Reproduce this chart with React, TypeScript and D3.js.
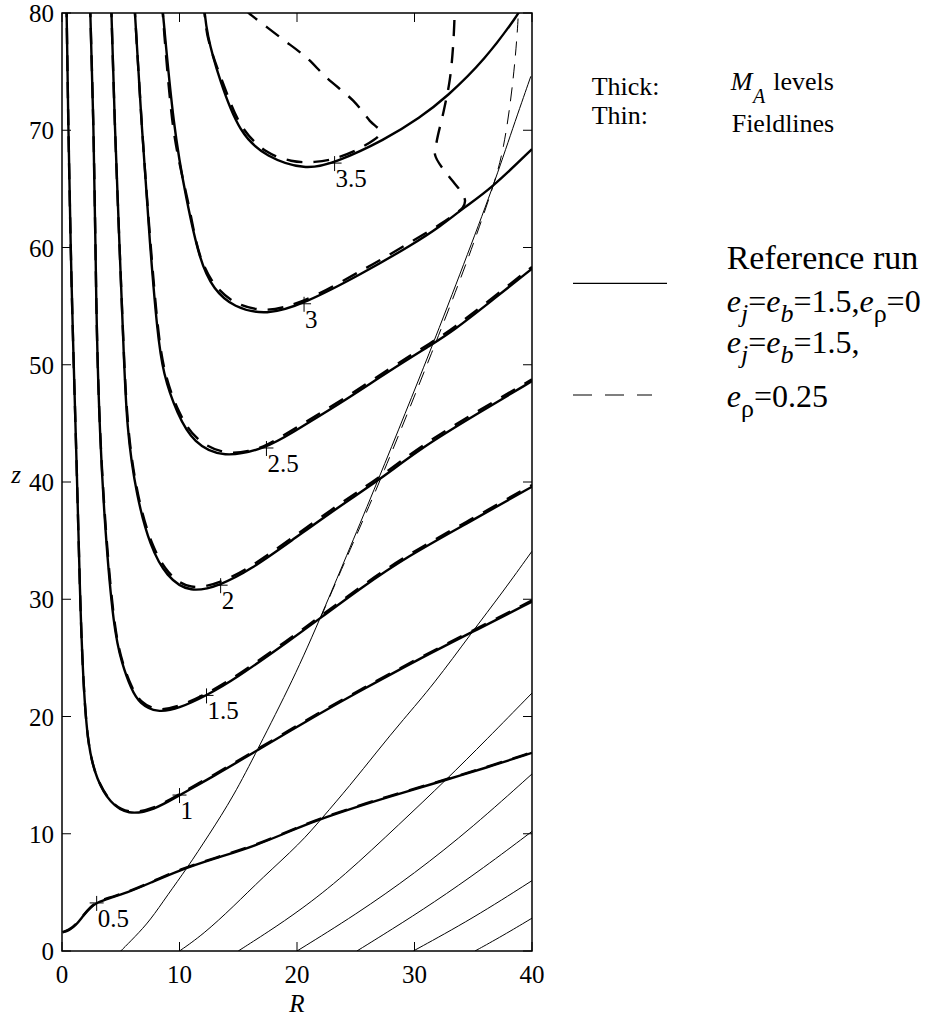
import React from 'react';
import * as d3 from 'd3';

type P = [number, number];

const xTicks = [0, 10, 20, 30, 40];
const zTicks = [0, 10, 20, 30, 40, 50, 60, 70, 80];

// M_A level contours, reference run (solid): [R, z]
const solid05: P[] = [[0.05,1.6],[0.6,1.75],[1.2,2.2],[1.8,3.0],[2.4,3.7],[3.0,4.15],[4.0,4.5],[5.5,4.95],[7.5,5.8],[10,6.9],[13,7.9],[16.3,8.9],[20.3,10.6],[22.1,11.3],[26,12.6],[29,13.5],[32.7,14.6],[36,15.6],[40,16.9]];
const solid10: P[] = [[0.38,81],[0.54,70],[0.74,60],[0.92,52.5],[1.25,41.6],[1.53,30.2],[1.8,23],[2.2,17.4],[2.95,14.6],[4.1,12.6],[5.6,11.6],[7.8,12.0],[10,13.3],[12.9,14.9],[16.6,17.1],[22,20.3],[25.6,22.3],[30.2,24.8],[34.9,27.2],[40,29.8]];
const solid15: P[] = [[2.38,81],[2.7,70],[2.85,60],[2.95,53],[3.2,44.4],[3.66,35.9],[4.4,27.4],[5.1,24.5],[5.9,22.3],[6.6,21.1],[8.1,20.3],[10,20.7],[12.3,21.8],[14.6,23.1],[19.4,26.5],[22,28.4],[25.5,31.0],[29.3,33.6],[34.7,36.6],[40,39.6]];
const solid20: P[] = [[4.18,81],[4.5,70],[4.9,60],[5.2,52.5],[5.5,44.4],[6.36,38.7],[7.5,34.5],[8.9,31.9],[10.9,30.5],[13.5,31.2],[16,32.5],[19.4,34.9],[23.7,38.0],[26.9,40.1],[30.7,43.0],[35.3,45.8],[40,48.6]];
const solid25: P[] = [[6.15,81],[6.8,70],[7.5,60],[8.1,52.9],[8.6,49.2],[9.8,45.8],[11.2,43.3],[13.7,42.0],[17.4,42.9],[19.4,44.1],[23.7,46.7],[27.9,49.5],[31.6,51.8],[33.3,52.9],[36.5,55.4],[40,58.2]];
const solid30: P[] = [[8.5,81],[9.5,70],[10.6,64.0],[11.7,58.9],[12.9,56.4],[14.6,54.9],[17.4,54.2],[20.6,55.2],[25.6,57.8],[29.9,60.3],[32.2,61.8],[34.2,63.4],[36.5,65.0],[40,68.4]];
const solid35: P[] = [[12.05,81],[12.3,78.2],[13.4,74.3],[15.1,69.7],[17.4,67.7],[20.7,66.6],[23.2,67.2],[27.5,69.2],[30.5,71.1],[32.7,72.8],[36.0,76.0],[38.9,80],[39.0,80.3]];

// M_A level contours, e_rho = 0.25 run (dashed)
const dashed05: P[] = [[0.05,1.6],[0.6,1.8],[1.2,2.25],[1.8,3.05],[2.4,3.75],[3.0,4.2],[4.0,4.55],[5.5,5.0],[7.5,5.85],[10,6.95],[13,7.95],[16.3,8.95],[20.3,10.65],[22.1,11.35],[26,12.65],[29,13.55],[32.7,14.65],[36,15.65],[40,16.95]];
const dashed10: P[] = [[0.38,81],[0.54,70],[0.74,60],[0.92,52.5],[1.25,41.6],[1.53,30.2],[1.8,23],[2.2,17.4],[2.95,14.65],[4.1,12.65],[5.6,11.7],[7.8,12.1],[10,13.4],[12.9,15.0],[16.6,17.2],[22,20.4],[25.6,22.4],[30.2,24.9],[34.9,27.3],[40,29.9]];
const dashed15: P[] = [[2.38,81],[2.7,70],[2.85,60],[2.95,53],[3.2,44.4],[3.7,35.9],[4.45,27.4],[5.15,24.5],[5.95,22.4],[6.7,21.2],[8.1,20.45],[10,20.85],[12.3,21.95],[14.6,23.25],[19.4,26.65],[22,28.55],[25.5,31.15],[29.3,33.75],[34.7,36.75],[40,39.75]];
const dashed20: P[] = [[4.18,81],[4.5,70],[4.9,60],[5.2,52.5],[5.55,44.4],[6.42,38.7],[7.6,34.6],[9.0,32.1],[10.9,30.75],[13.5,31.4],[16,32.7],[19.4,35.1],[23.7,38.2],[26.9,40.3],[30.7,43.2],[35.3,46.0],[40,48.75]];
const dashed25: P[] = [[6.15,81],[6.8,70],[7.55,60],[8.15,52.9],[8.7,49.2],[9.9,45.9],[11.3,43.6],[13.7,42.35],[16.0,42.6],[17.4,43.1],[19.4,44.3],[23.7,46.9],[27.9,49.7],[31.6,52.0],[33.3,53.1],[36.5,55.6],[40,58.35]];
const dashed30: P[] = [[8.5,81],[9.5,70],[10.7,64.0],[11.9,58.9],[13.2,56.6],[15.0,55.2],[17.5,54.7],[20.6,55.5],[25.6,58.1],[29.9,60.6],[32.2,62.0],[33.5,62.9],[34.1,63.4],[34.3,64.0],[34.0,64.7],[33.3,65.6],[32.5,66.6],[31.75,67.9],[31.9,69.1],[32.5,71.7],[33.0,74.3],[33.3,77.4],[33.45,81]];
const dashed35: P[] = [[12.05,81],[12.4,78],[13.6,74.3],[15.4,70.2],[17.4,68.2],[19.5,67.4],[21.5,67.3],[23.2,67.6],[25.6,68.6],[27.1,69.8],[26.2,70.8],[24.8,72.5],[22.5,74.5],[20.8,76.2],[18.6,77.9],[15.9,80],[15.6,80.3]];

const solidContours = [solid05, solid10, solid15, solid20, solid25, solid30, solid35];
const dashedContours = [dashed05, dashed10, dashed15, dashed20, dashed25, dashed30, dashed35];

// contour labels
const labelText = ['0.5', '1', '1.5', '2', '2.5', '3', '3.5'];
const labelR = [2.95, 10.0, 12.3, 13.5, 17.4, 20.6, 23.2];
const labelZ = [4.1, 13.3, 21.8, 31.2, 42.9, 55.2, 67.2];

// thin fieldlines (reference run)
const field1: P[] = [[5,0],[6.2,1.2],[7.5,2.6],[9,4.8],[10.6,7.0],[12.5,9.9],[14.6,13.2],[16.6,17.1],[19.7,23.2],[22,28.4],[26.9,40.1],[31.6,51.8],[34.2,58.6],[36.7,65.2],[38.4,70.3],[39.9,74.6]];
const field2: P[] = [[10,0],[12,1.4],[14.6,3.8],[17,6.2],[20.3,9.2],[22.1,11.3],[24.5,14.1],[26.8,17.0],[29,19.7],[31.6,22.7],[34.9,27.2],[37.5,30.6],[40,34.1]];
const field3: P[] = [[15,0],[17.5,1.6],[20.3,3.5],[23.9,6.3],[28.8,10.9],[32.7,14.6],[36.1,18.0],[40,22.0]];
const field4: P[] = [[20,0],[25,3.1],[30,6.6],[35,10.6],[40,15.1]];
const field5: P[] = [[25.1,0],[28,1.8],[31.6,4.1],[35.9,7.1],[40,10.2]];
const field6: P[] = [[29.9,0],[35,2.8],[40,6.0]];
const field7: P[] = [[35.15,0],[37.5,1.3],[40,2.8]];
const fieldLines = [field1, field2, field3, field4, field5, field6, field7];

// thin fieldline of the e_rho = 0.25 run (dashed)
const fieldDashed: P[] = [[22,28.4],[24.5,34.2],[27.1,40.1],[31.8,51.8],[34.4,58.6],[35.5,61.7],[36.7,65.2],[37.6,68.3],[38.4,74.0],[38.8,78.9],[38.85,80.5]];

const serif = '"Liberation Serif", "Times New Roman", "DejaVu Serif", serif';

export default function App() {
  const x = d3.scaleLinear().domain([0, 40]).range([62, 532]);
  const y = d3.scaleLinear().domain([0, 80]).range([951, 13]);
  const smooth = d3.line<P>().x(d => x(d[0])).y(d => y(d[1])).curve(d3.curveBasis);
  const sharp = d3.line<P>().x(d => x(d[0])).y(d => y(d[1])).curve(d3.curveCatmullRom.alpha(0.5));
  const [x0, x1] = x.range();
  const [y0, y1] = y.range();
  const tl = 9;
  const sub = 10;

  return (
    <svg width={940} height={1021} style={{ position: 'absolute', left: 0, top: 0, background: '#fff', fontFamily: serif }}>
      <defs>
        <clipPath id="plotclip">
          <rect x={x0} y={y1} width={x1 - x0} height={y0 - y1} />
        </clipPath>
      </defs>
      <rect x={0} y={0} width={940} height={1021} fill="#fff" />
      <g clipPath="url(#plotclip)" fill="none" stroke="#000">
        {fieldLines.map((f, i) => (
          <path key={'f' + i} d={smooth(f) || ''} strokeWidth={1} />
        ))}
        <path d={smooth(fieldDashed) || ''} strokeWidth={1} strokeDasharray="14,9" />
        {solidContours.map((c, i) => (
          <path key={'s' + i} d={smooth(c) || ''} strokeWidth={2.4} />
        ))}
        {dashedContours.map((c, i) => (
          <path key={'d' + i} d={(i >= 5 ? sharp(c) : smooth(c)) || ''} strokeWidth={2.4} strokeDasharray="16,11" />
        ))}
      </g>
      {/* contour labels */}
      {labelText.map((t, i) => {
        const cx = x(labelR[i]);
        const cy = y(labelZ[i]);
        return (
          <g key={'l' + i}>
            <line x1={cx - 7} x2={cx + 7} y1={cy} y2={cy} stroke="#000" strokeWidth={1} />
            <line x1={cx} x2={cx} y1={cy - 7} y2={cy + 8} stroke="#000" strokeWidth={1} />
            <text x={cx + 1} y={cy + 24} fontSize={25}>{t}</text>
          </g>
        );
      })}
      {/* frame and ticks */}
      <rect x={x0} y={y1} width={x1 - x0} height={y0 - y1} fill="none" stroke="#000" strokeWidth={1.5} />
      {xTicks.map(t => (
        <g key={'xt' + t}>
          <line x1={x(t)} x2={x(t)} y1={y0} y2={y0 - tl} stroke="#000" strokeWidth={1} />
          <line x1={x(t)} x2={x(t)} y1={y1} y2={y1 + tl} stroke="#000" strokeWidth={1} />
          <text x={x(t)} y={y0 + 32} fontSize={25} textAnchor="middle">{t}</text>
        </g>
      ))}
      {zTicks.map(t => (
        <g key={'yt' + t}>
          <line x1={x0} x2={x0 + tl} y1={y(t)} y2={y(t)} stroke="#000" strokeWidth={1} />
          <line x1={x1} x2={x1 - tl} y1={y(t)} y2={y(t)} stroke="#000" strokeWidth={1} />
          <text x={54} y={y(t) + 9} fontSize={25} textAnchor="end">{t}</text>
        </g>
      ))}
      <text x={x(20)} y={1012} fontSize={25} fontStyle="italic" textAnchor="middle">R</text>
      <text x={16} y={483} fontSize={25} fontStyle="italic" textAnchor="middle">z</text>

      {/* legend 1 */}
      <text x={591.7} y={95} fontSize={26}>Thick:</text>
      <text fontSize={26}>
        <tspan x={730.7} y={90} fontStyle="italic">M</tspan>
        <tspan x={753} y={103} fontSize={20} fontStyle="italic">A</tspan>
        <tspan x={773.3} y={90}>levels</tspan>
      </text>
      <text x={591.7} y={124} fontSize={26}>Thin:</text>
      <text x={731.7} y={131.7} fontSize={26}>Fieldlines</text>

      {/* legend 2 */}
      <line x1={573} x2={667} y1={283.3} y2={283.3} stroke="#000" strokeWidth={1.2} />
      <line x1={573} x2={652} y1={395} y2={395} stroke="#000" strokeWidth={1.2} strokeDasharray="19,13" />
      <text x={726.7} y={269.3} fontSize={34}>Reference run</text>
      <text x={726.7} y={311.7} fontSize={32}>
        <tspan fontStyle="italic">e</tspan>
        <tspan dy={sub} fontSize={26} fontStyle="italic">j</tspan>
        <tspan dy={-sub}>=</tspan>
        <tspan fontStyle="italic">e</tspan>
        <tspan dy={sub} fontSize={26} fontStyle="italic">b</tspan>
        <tspan dy={-sub}>=1.5,</tspan>
        <tspan fontStyle="italic">e</tspan>
        <tspan dy={sub} fontSize={26}>ρ</tspan>
        <tspan dy={-sub}>=0</tspan>
      </text>
      <text x={726.7} y={353.3} fontSize={32}>
        <tspan fontStyle="italic">e</tspan>
        <tspan dy={sub} fontSize={26} fontStyle="italic">j</tspan>
        <tspan dy={-sub}>=</tspan>
        <tspan fontStyle="italic">e</tspan>
        <tspan dy={sub} fontSize={26} fontStyle="italic">b</tspan>
        <tspan dy={-sub}>=1.5,</tspan>
      </text>
      <text x={726.7} y={406.7} fontSize={32}>
        <tspan fontStyle="italic">e</tspan>
        <tspan dy={sub} fontSize={26}>ρ</tspan>
        <tspan dy={-sub}>=0.25</tspan>
      </text>
    </svg>
  );
}
